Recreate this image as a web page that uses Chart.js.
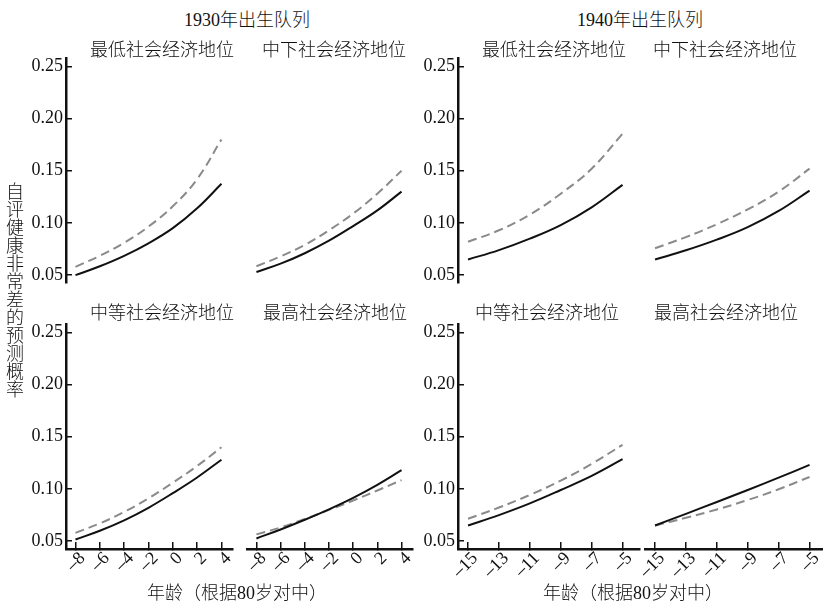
<!DOCTYPE html>
<html>
<head>
<meta charset="utf-8">
<script src="https://cdn.jsdelivr.net/npm/chart.js@4.4.0/dist/chart.umd.min.js"></script>
<style>
html, body { margin: 0; padding: 0; background: #fff; width: 823px; height: 606px; overflow: hidden; position: relative; }
.txt { position: absolute; font-family: "Liberation Serif", "Noto Sans CJK SC", serif; font-size: 18px; font-weight: 300; color: #111;
       white-space: nowrap; transform: translate(-50%, -50%); line-height: 1; }
#ytitle { transform: none; writing-mode: vertical-rl; text-orientation: upright; font-family: "Noto Sans CJK SC", sans-serif; }
.panel { position: absolute; }
</style>
</head>
<body>
<div class="txt" style="left:247px;top:20px">1930年出生队列</div>
<div class="txt" style="left:640px;top:20px">1940年出生队列</div>

<div class="txt" style="left:162px;top:50px">最低社会经济地位</div>
<div class="txt" style="left:334px;top:50px">中下社会经济地位</div>
<div class="txt" style="left:554px;top:50px">最低社会经济地位</div>
<div class="txt" style="left:725px;top:50px">中下社会经济地位</div>

<div class="txt" style="left:162px;top:313px">中等社会经济地位</div>
<div class="txt" style="left:335px;top:313px">最高社会经济地位</div>
<div class="txt" style="left:547px;top:313px">中等社会经济地位</div>
<div class="txt" style="left:726px;top:313px">最高社会经济地位</div>

<div class="txt" id="ytitle" style="left:6px;top:182px">自评健康非常差的预测概率</div>

<div class="txt" style="left:237px;top:593px">年龄（根据80岁对中）</div>
<div class="txt" style="left:633px;top:593px">年龄（根据80岁对中）</div>

<script>
// x values (age centred at 80)
const ages1930 = [-8, -6, -4, -2, 0, 2, 4];
const ages1940 = [-15, -13, -11, -9, -7, -5];
const yTicks = [0.05, 0.10, 0.15, 0.20, 0.25];

// solid = black line, dashed = grey line
const c1930LowestSolid  = [0.050, 0.0585, 0.0685, 0.0805, 0.095, 0.114, 0.1375];
const c1930LowestDashed = [0.058, 0.0685, 0.081, 0.0965, 0.116, 0.142, 0.180];
const c1930LowMidSolid  = [0.053, 0.061, 0.071, 0.083, 0.097, 0.112, 0.130];
const c1930LowMidDashed = [0.0585, 0.068, 0.079, 0.093, 0.109, 0.128, 0.150];
const c1930MiddleSolid  = [0.0516, 0.060, 0.070, 0.082, 0.096, 0.111, 0.128];
const c1930MiddleDashed = [0.058, 0.067, 0.078, 0.091, 0.106, 0.122, 0.140];
const c1930HighestSolid  = [0.0526, 0.0612, 0.0705, 0.0805, 0.0915, 0.104, 0.118];
const c1930HighestDashed = [0.0565, 0.0632, 0.0712, 0.080, 0.089, 0.0985, 0.1085];

const c1940LowestSolid  = [0.065, 0.074, 0.085, 0.098, 0.115, 0.1365];
const c1940LowestDashed = [0.082, 0.093, 0.108, 0.128, 0.152, 0.1855];
const c1940LowMidSolid  = [0.065, 0.0738, 0.084, 0.096, 0.1115, 0.131];
const c1940LowMidDashed = [0.0758, 0.0865, 0.0988, 0.113, 0.130, 0.152];
const c1940MiddleSolid  = [0.065, 0.075, 0.0862, 0.099, 0.1125, 0.1285];
const c1940MiddleDashed = [0.0715, 0.0822, 0.0943, 0.108, 0.124, 0.1423];
const c1940HighestSolid  = [0.065, 0.0762, 0.0875, 0.099, 0.1108, 0.1231];
const c1940HighestDashed = [0.065, 0.0724, 0.0804, 0.0894, 0.0997, 0.1115];

Chart.defaults.font.family = 'Liberation Serif';
const font = { family: 'Liberation Serif', size: 18 };
const ink = '#111';

const panels = [
  { row: 0, col: 0, left: 66,  width: 167, ages: ages1930, xr: [-8.78, 4.95],   solid: c1930LowestSolid,  dashed: c1930LowestDashed },
  { row: 0, col: 1, left: 247, width: 166, ages: ages1930, xr: [-8.78, 4.95],   solid: c1930LowMidSolid,  dashed: c1930LowMidDashed },
  { row: 1, col: 0, left: 66,  width: 167, ages: ages1930, xr: [-8.78, 4.95],   solid: c1930MiddleSolid,  dashed: c1930MiddleDashed },
  { row: 1, col: 1, left: 247, width: 166, ages: ages1930, xr: [-8.78, 4.95],   solid: c1930HighestSolid, dashed: c1930HighestDashed },
  { row: 0, col: 0, left: 458, width: 182, ages: ages1940, xr: [-15.65, -3.87], solid: c1940LowestSolid,  dashed: c1940LowestDashed },
  { row: 0, col: 1, left: 645, width: 182, ages: ages1940, xr: [-15.65, -3.87], solid: c1940LowMidSolid,  dashed: c1940LowMidDashed },
  { row: 1, col: 0, left: 458, width: 182, ages: ages1940, xr: [-15.65, -3.87], solid: c1940MiddleSolid,  dashed: c1940MiddleDashed },
  { row: 1, col: 1, left: 645, width: 182, ages: ages1940, xr: [-15.65, -3.87], solid: c1940HighestSolid, dashed: c1940HighestDashed },
];

function points(xs, ys) {
  return xs.map((x, i) => ({ x: x, y: ys[i] }));
}

const charts = [];

function makePanel(p) {
  const showY = p.col === 0, showX = p.row === 1;
  const yW = showY ? 66 : 0, xH = showX ? 45 : 0;
  const padT = 10, padB = 8, padR = 12, padL = showY ? 0 : 20;
  const top = (p.row === 0 ? 58 : 324) - padT;
  const w = padL + yW + p.width + padR;
  const h = padT + 225 + xH + padB;

  const div = document.createElement('div');
  div.className = 'panel';
  div.style.left = (p.left - yW - padL) + 'px';
  div.style.top = top + 'px';
  const cv = document.createElement('canvas');
  cv.width = w; cv.height = h;
  cv.style.width = w + 'px'; cv.style.height = h + 'px';
  div.appendChild(cv);
  document.body.insertBefore(div, document.body.firstChild);

  charts.push(new Chart(cv, {
    type: 'line',
    data: {
      datasets: [
        { data: points(p.ages, p.solid), borderColor: ink, borderWidth: 2 },
        { data: points(p.ages, p.dashed), borderColor: '#8a8a8a', borderWidth: 2, borderDash: [9, 5] },
      ],
    },
    options: {
      responsive: false,
      animation: false,
      layout: { padding: { top: padT, bottom: padB, left: padL, right: padR } },
      plugins: { legend: { display: false }, tooltip: { enabled: false } },
      elements: { point: { radius: 0 }, line: { tension: 0.4 } },
      scales: {
        x: {
          type: 'linear',
          display: showX,
          min: p.xr[0], max: p.xr[1],
          afterBuildTicks: s => { s.ticks = p.ages.map(v => ({ value: v })); },
          afterFit: s => { s.height = xH; s.paddingLeft = 0; s.paddingRight = 0; },
          grid: { drawOnChartArea: false, tickLength: -7, color: ink, lineWidth: 1.5 },
          border: { color: ink, width: 2.5 },
          ticks: {
            autoSkip: false, minRotation: 45, maxRotation: 45, padding: 6, labelOffset: 7,
            font: font, color: ink,
            callback: v => v < 0 ? '\u2013' + Math.abs(v) : String(v),
          },
        },
        y: {
          display: showY,
          min: 0.0425, max: 0.258,
          afterBuildTicks: s => { s.ticks = yTicks.map(v => ({ value: v })); },
          afterFit: s => { s.width = yW; s.paddingTop = 0; s.paddingBottom = 0; },
          grid: { drawOnChartArea: false, tickLength: -6, color: ink, lineWidth: 1.5 },
          border: { color: ink, width: 2.5 },
          ticks: { padding: 9, font: font, color: ink, callback: v => v.toFixed(2) },
        },
      },
    },
  }));
}

panels.forEach(makePanel);

// redraw once the serif face is ready so canvas text picks it up
document.fonts.load('18px "Liberation Serif"').then(() => charts.forEach(c => c.update()));
</script>
</body>
</html>
